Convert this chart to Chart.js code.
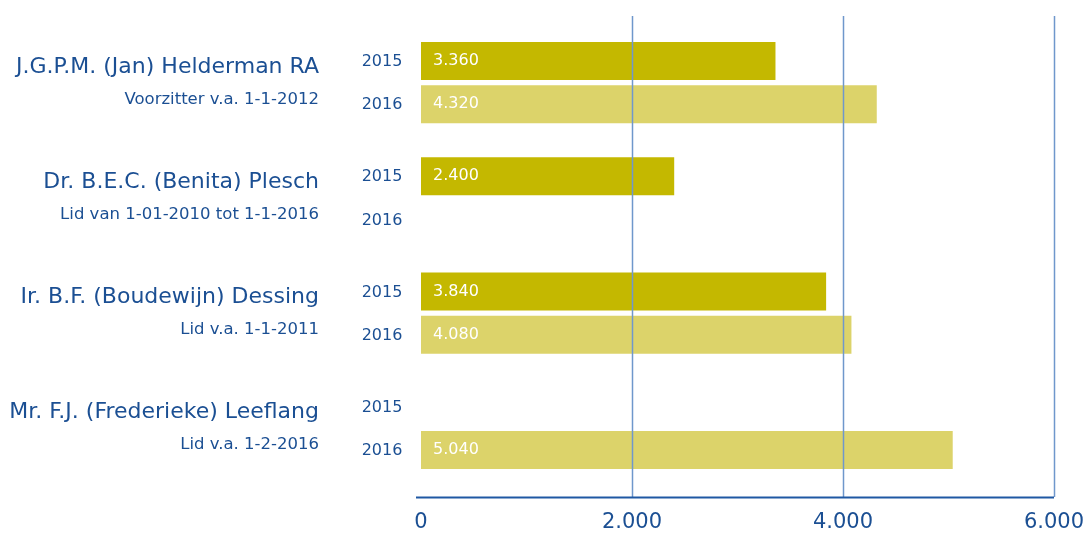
<!DOCTYPE html>
<html>
<head>
<meta charset="utf-8">
<script src="https://cdn.jsdelivr.net/npm/chart.js@4"></script>
<style>
  html, body { margin: 0; padding: 0; background: #fff; }
  #wrap { width: 1088px; height: 534px; }
</style>
</head>
<body>
<div id="wrap"><canvas id="myChart"></canvas></div>
<script>
const names = [
  "J.G.P.M. (Jan) Helderman RA",
  "Dr. B.E.C. (Benita) Plesch",
  "Ir. B.F. (Boudewijn) Dessing",
  "Mr. F.J. (Frederieke) Leeflang"
];
const roles = [
  "Voorzitter v.a. 1-1-2012",
  "Lid van 1-01-2010 tot 1-1-2016",
  "Lid v.a. 1-1-2011",
  "Lid v.a. 1-2-2016"
];
const years = ["2015", "2016"];
const values2015 = [3360, 2400, 3840, null];
const values2016 = [4320, null, 4080, 5040];
const xTicks = [0, 2000, 4000, 6000];

const blue = "#1b4f93";
const fontFamily = "'DejaVu Sans', Verdana, sans-serif";

function fmt(v) {
  return String(v).replace(/\B(?=(\d{3})+(?!\d))/g, ".");
}

const overlay = {
  id: "overlay",
  afterDatasetsDraw(chart) {
    const ctx = chart.ctx;
    const xs = chart.scales.x;
    ctx.save();

    // grid lines on top of the bars
    ctx.strokeStyle = "#6f97cc";
    ctx.lineWidth = 1.5;
    xTicks.slice(1).forEach(t => {
      const px = Math.round(xs.getPixelForValue(t)) + 0.5;
      ctx.beginPath();
      ctx.moveTo(px, 16);
      ctx.lineTo(px, 497);
      ctx.stroke();
    });
    // axis line
    ctx.strokeStyle = "#1f58a3";
    ctx.lineWidth = 2;
    ctx.beginPath();
    ctx.moveTo(xs.getPixelForValue(0) - 5, 497.5);
    ctx.lineTo(xs.getPixelForValue(6000), 497.5);
    ctx.stroke();

    ctx.textBaseline = "middle";
    const metas = [chart.getDatasetMeta(0), chart.getDatasetMeta(1)];
    const sets = [values2015, values2016];
    metas.forEach((meta, d) => {
      meta.data.forEach((bar, i) => {
        // year label
        ctx.fillStyle = blue;
        ctx.textAlign = "center";
        ctx.font = "16px " + fontFamily;
        ctx.fillText(years[d], 382, bar.y + 1);
        // value label
        const v = sets[d][i];
        if (v !== null) {
          ctx.fillStyle = "#ffffff";
          ctx.textAlign = "left";
          ctx.fillText(fmt(v), xs.getPixelForValue(0) + 12, bar.y);
        }
      });
    });

    // names and roles
    ctx.textAlign = "right";
    ctx.fillStyle = blue;
    names.forEach((n, i) => {
      const y1 = metas[0].data[i].y;
      const y2 = metas[1].data[i].y;
      ctx.font = "22px " + fontFamily;
      ctx.fillText(n, 319, y1 + 6);
      ctx.font = "16.5px " + fontFamily;
      ctx.fillText(roles[i], 319, y2 - 5);
    });
    ctx.restore();
  }
};

new Chart(document.getElementById("myChart"), {
  type: "bar",
  data: {
    labels: names,
    datasets: [
      {
        label: years[0],
        data: values2015,
        backgroundColor: "#c4b800",
        categoryPercentage: 0.75,
        barPercentage: 0.88
      },
      {
        label: years[1],
        data: values2016,
        backgroundColor: "#dcd36a",
        categoryPercentage: 0.75,
        barPercentage: 0.88
      }
    ]
  },
  options: {
    indexAxis: "y",
    responsive: true,
    maintainAspectRatio: false,
    animation: false,
    layout: { padding: { left: 421, right: 34, top: 25, bottom: 0 } },
    plugins: {
      legend: { display: false },
      tooltip: { enabled: false }
    },
    scales: {
      y: { display: false },
      x: {
        min: 0,
        max: 6000,
        afterBuildTicks(scale) {
          scale.ticks = xTicks.map(v => ({ value: v }));
        },
        afterFit(scale) {
          scale.height = 48;
          scale.paddingLeft = 0;
          scale.paddingRight = 0;
        },
        grid: { display: false, drawTicks: false },
        border: { display: false },
        ticks: {
          color: blue,
          padding: 24,
          maxRotation: 0,
          font: { size: 21, family: fontFamily },
          callback: v => fmt(v)
        }
      }
    }
  },
  plugins: [overlay]
});
</script>
</body>
</html>
